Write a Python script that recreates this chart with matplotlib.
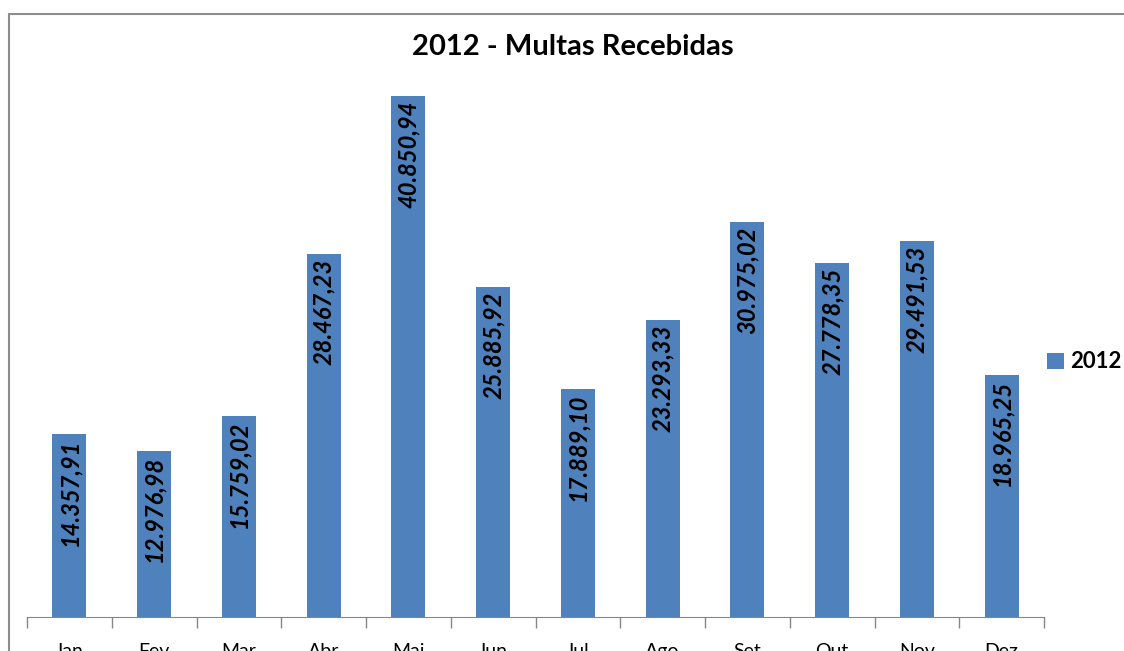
import matplotlib.pyplot as plt
from matplotlib.patches import Rectangle

# monthly fines received in 2012
meses = ['Jan', 'Fev', 'Mar', 'Abr', 'Mai', 'Jun', 'Jul', 'Ago', 'Set', 'Out', 'Nov', 'Dez']
valores = [14357.91, 12976.98, 15759.02, 28467.23, 40850.94, 25885.92,
           17889.10, 23293.33, 30975.02, 27778.35, 29491.53, 18965.25]
rotulos = ['14.357,91', '12.976,98', '15.759,02', '28.467,23', '40.850,94', '25.885,92',
           '17.889,10', '23.293,33', '30.975,02', '27.778,35', '29.491,53', '18.965,25']
serie = '2012'

plt.rcParams['font.family'] = ['Lato', 'DejaVu Sans']

fig = plt.figure(figsize=(11.24, 6.51), dpi=100)
ax = fig.add_axes([27 / 1124, 1 - 617 / 651, 1017 / 1124, (617 - 43) / 651])

x = list(range(len(meses)))
bars = ax.bar(x, valores, width=0.4, color='#4f81bd', label=serie)
ax.set_xlim(-0.5, len(meses) - 0.5)
ax.set_ylim(0, 45000)

for b, txt in zip(bars, rotulos):
    ax.text(b.get_x() + b.get_width() / 2, b.get_height() - 350, txt,
            rotation=90, ha='center', va='top', fontsize=17,
            fontweight='bold', fontstyle='italic', color='black')

# category tick marks between bars
ax.set_xticks([i - 0.5 for i in range(len(meses) + 1)], minor=False)
ax.set_xticklabels([])
ax.tick_params(axis='x', length=8, color='#868686', width=1)
ax.set_xticks(x, minor=True)
ax.set_xticklabels(meses, minor=True, fontsize=14)
ax.tick_params(axis='x', which='minor', length=0, pad=19)
ax.set_yticks([])
for s in ['top', 'right', 'left']:
    ax.spines[s].set_visible(False)
ax.spines['bottom'].set_color('#868686')

fig.text(573 / 1124, 1 - 47 / 651, '2012 - Multas Recebidas', ha='center', va='center',
         fontsize=21, fontweight='bold')

leg = fig.legend(handles=[bars], labels=[serie], loc='center left',
                 bbox_to_anchor=(1047 / 1124, 1 - 362 / 651), frameon=False,
                 prop={'weight': 'bold', 'size': 16}, handlelength=0.75,
                 handleheight=0.75, handletextpad=0.3, borderpad=0,
                 borderaxespad=0)

# chart frame (only top/left edges are visible in the crop)
fig.patches.append(Rectangle((9 / 1124, -0.1), 1.2, 1 - 14 / 651 + 0.1,
                             transform=fig.transFigure, fill=False,
                             edgecolor='#8c8c8c', linewidth=1.5))

fig.savefig('out.png', dpi=100)
